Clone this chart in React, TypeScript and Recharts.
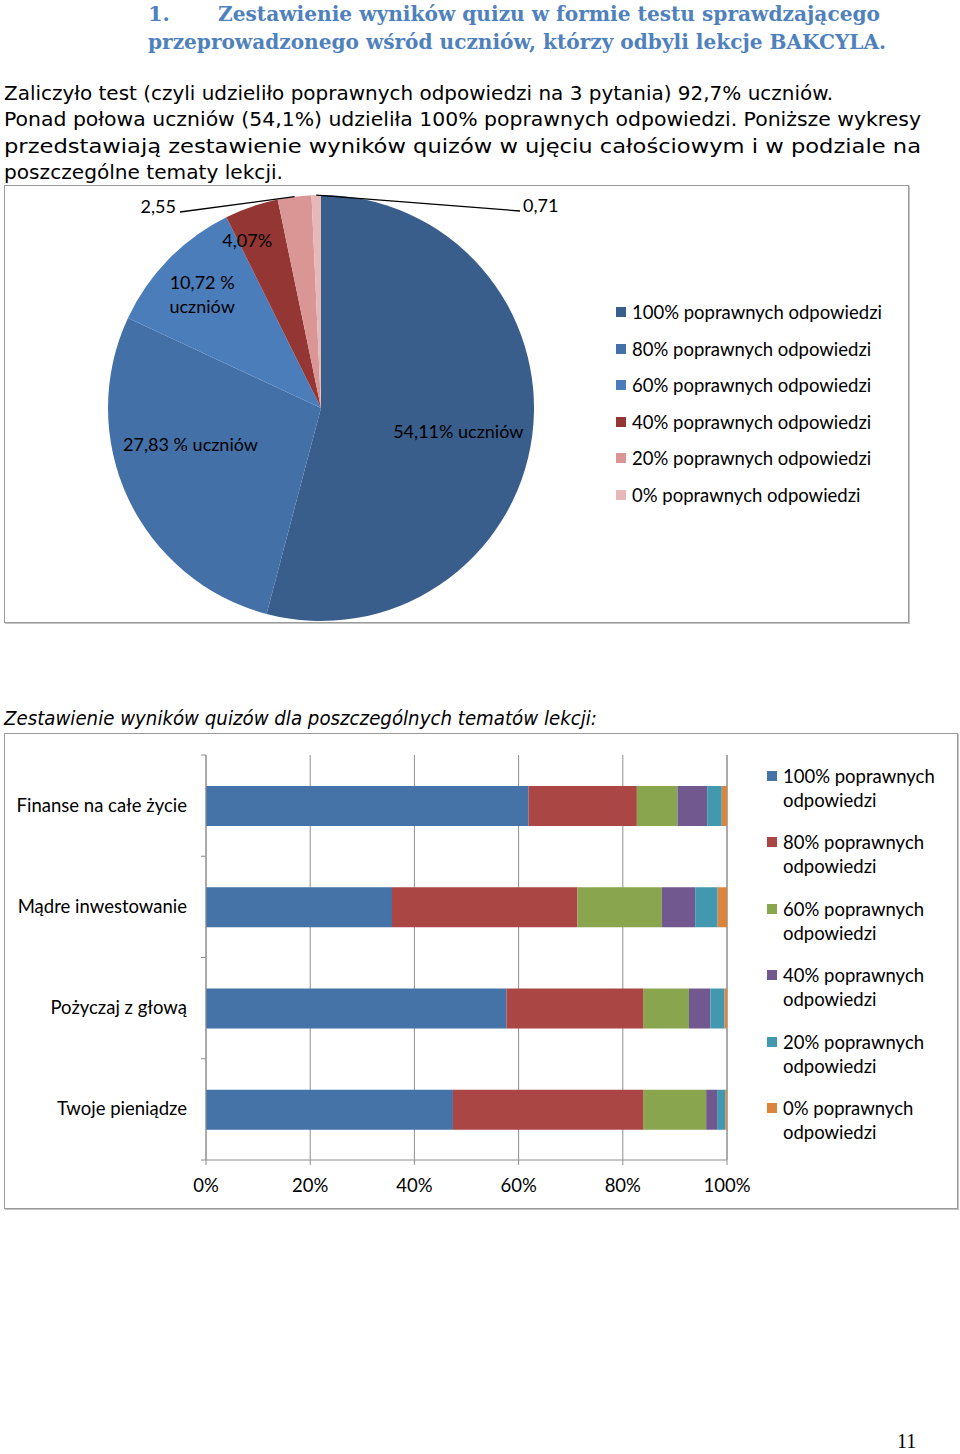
import React from 'react'
import {
  PieChart,
  Pie,
  Cell,
  BarChart,
  Bar,
  XAxis,
  YAxis,
  CartesianGrid,
  Legend,
} from 'recharts'

// overall quiz result (pie)
const PIE_NAMES = [
  '100% poprawnych odpowiedzi',
  '80% poprawnych odpowiedzi',
  '60% poprawnych odpowiedzi',
  '40% poprawnych odpowiedzi',
  '20% poprawnych odpowiedzi',
  '0% poprawnych odpowiedzi',
]
const PIE_VALUES = [54.11, 27.83, 10.72, 4.07, 2.55, 0.71]
const PIE_LABELS = ['54,11% uczniów', '27,83 % uczniów', '10,72 %\nuczniów', '4,07%', '2,55', '0,71']

// results per lesson topic (stacked bars)
const TOPICS = ['Finanse na całe życie', 'Mądre inwestowanie', 'Pożyczaj z głową', 'Twoje pieniądze']
const SERIES = [
  '100% poprawnych odpowiedzi',
  '80% poprawnych odpowiedzi',
  '60% poprawnych odpowiedzi',
  '40% poprawnych odpowiedzi',
  '20% poprawnych odpowiedzi',
  '0% poprawnych odpowiedzi',
]
const S100 = [61.9, 35.7, 57.7, 47.4]
const S80 = [20.8, 35.6, 26.3, 36.6]
const S60 = [7.8, 16.2, 8.7, 12.0]
const S40 = [5.7, 6.4, 4.1, 2.1]
const S20 = [2.8, 4.3, 2.7, 1.6]
const S0 = [1.0, 1.8, 0.5, 0.3]
const X_TICKS = [0, 20, 40, 60, 80, 100]

const PIE_COLORS = ['#3a5e8c', '#4470a8', '#4b7dbb', '#943634', '#d99694', '#e6b9b8']
const BAR_COLORS = ['#4572a7', '#aa4643', '#89a54e', '#71588f', '#4198af', '#db843d']
const FONT = 'Lato, "Open Sans", sans-serif'
const GRID = '#8e8e8e'

// label placement: fraction of radius (+ nudge), or a callout end point relative to the centre
const LABEL_LAYOUT: any[] = [
  { f: 0.65, dx: 0, dy: 6 },
  { f: 0.64, dx: -7, dy: -21 },
  { f: 0.78, dx: 0, dy: 3 },
  { f: 0.86, dx: -14, dy: 6 },
  { end: [-141, -196], anchor: 'end' },
  { end: [199, -197], anchor: 'start' },
]

const pieData = PIE_NAMES.map((name, i) => ({ name, value: PIE_VALUES[i] }))
const barData = TOPICS.map((name, i) => ({
  name,
  [SERIES[0]]: S100[i],
  [SERIES[1]]: S80[i],
  [SERIES[2]]: S60[i],
  [SERIES[3]]: S40[i],
  [SERIES[4]]: S20[i],
  [SERIES[5]]: S0[i],
}))

const RAD = Math.PI / 180

function renderPieLabel(props: any) {
  const { cx, cy, midAngle, outerRadius, index } = props
  const lay = LABEL_LAYOUT[index]
  const cos = Math.cos(-midAngle * RAD)
  const sin = Math.sin(-midAngle * RAD)
  const text = PIE_LABELS[index]
  if (lay.end) {
    const ex = cx + outerRadius * cos
    const ey = cy + outerRadius * sin
    const lx = cx + lay.end[0]
    const ly = cy + lay.end[1]
    return (
      <g>
        <path d={`M${ex},${ey} L${lx},${ly}`} stroke="#000" strokeWidth={1.3} fill="none" />
        <text
          x={lay.anchor === 'end' ? lx - 4 : lx + 3}
          y={ly + 1}
          textAnchor={lay.anchor}
          fontSize={18}
          fontFamily={FONT}
          fill="#000"
        >
          {text}
        </text>
      </g>
    )
  }
  const x = cx + outerRadius * lay.f * cos + lay.dx
  const y = cy + outerRadius * lay.f * sin + lay.dy
  const lines = text.split('\n')
  return (
    <text x={x} y={y} textAnchor="middle" fontSize={18} fontFamily={FONT} fill="#000">
      {lines.map((l, k) => (
        <tspan key={k} x={x} dy={k === 0 ? 6 - (lines.length - 1) * 12 : 24}>
          {l}
        </tspan>
      ))}
    </text>
  )
}

function PieLegend() {
  return (
    <div style={{ fontFamily: FONT, fontSize: 18.5, color: '#000' }}>
      {PIE_NAMES.map((n, i) => (
        <div key={n} style={{ height: 36.5, display: 'flex', alignItems: 'center', whiteSpace: 'nowrap' }}>
          <span style={{ width: 10, height: 10, background: PIE_COLORS[i], marginRight: 6 }} />
          {n}
        </div>
      ))}
    </div>
  )
}

function BarLegend() {
  return (
    <div style={{ fontFamily: FONT, fontSize: 18.5, color: '#000', lineHeight: '24px' }}>
      {SERIES.map((n, i) => (
        <div key={n} style={{ height: 66.4, display: 'flex', alignItems: 'flex-start' }}>
          <span style={{ width: 10, height: 10, background: BAR_COLORS[i], marginRight: 6, marginTop: 7, flex: 'none' }} />
          <span>
            {n.replace(' odpowiedzi', '')}
            <br />
            odpowiedzi
          </span>
        </div>
      ))}
    </div>
  )
}

const BAND = 405 / TOPICS.length

function TopicTick(props: any) {
  const { x, y, payload, index } = props
  const ax = x + 19
  return (
    <g>
      <line x1={ax - 5} y1={y - BAND / 2} x2={ax} y2={y - BAND / 2} stroke={GRID} />
      {index === TOPICS.length - 1 && <line x1={ax - 5} y1={y + BAND / 2} x2={ax} y2={y + BAND / 2} stroke={GRID} />}
      <text x={x} y={y + 6} textAnchor="end" fontSize={18.5} fontFamily={FONT} fill="#000">
        {payload.value}
      </text>
    </g>
  )
}

const boxStyle: React.CSSProperties = {
  position: 'absolute',
  border: '1px solid #9a9a9a',
  boxShadow: '1px 1px 0 #c4c4c4',
  background: '#fff',
}

export default function App() {
  return (
    <div style={{ position: 'absolute', left: 0, top: 0, width: 960, height: 1454, background: '#fff', overflow: 'hidden' }}>
      <svg width={960} height={1454} style={{ position: 'absolute', left: 0, top: 0 }}>
        <g fontFamily='"DejaVu Serif", serif' fontWeight="bold" fontSize={21} fill="#4f81bd">
          <text x={148} y={21}>1.</text>
          <text x={218} y={21} textLength={662} lengthAdjust="spacingAndGlyphs">
            Zestawienie wyników quizu w formie testu sprawdzającego
          </text>
          <text x={148} y={49} textLength={738} lengthAdjust="spacingAndGlyphs">
            przeprowadzonego wśród uczniów, którzy odbyli lekcje BAKCYLA.
          </text>
        </g>
        <g fontFamily='"DejaVu Sans", sans-serif' fontSize={20} fill="#000">
          <text x={4} y={100} textLength={829} lengthAdjust="spacingAndGlyphs">
            Zaliczyło test (czyli udzieliło poprawnych odpowiedzi na 3 pytania) 92,7% uczniów.
          </text>
          <text x={4} y={126} textLength={917} lengthAdjust="spacingAndGlyphs">
            Ponad połowa uczniów (54,1%) udzieliła 100% poprawnych odpowiedzi. Poniższe wykresy
          </text>
          <text x={4} y={153} textLength={917} lengthAdjust="spacingAndGlyphs">
            przedstawiają zestawienie wyników quizów w ujęciu całościowym i w podziale na
          </text>
          <text x={4} y={179} textLength={279} lengthAdjust="spacingAndGlyphs">
            poszczególne tematy lekcji.
          </text>
          <text x={4} y={725} fontStyle="italic" fontSize={19} textLength={593} lengthAdjust="spacingAndGlyphs">
            Zestawienie wyników quizów dla poszczególnych tematów lekcji:
          </text>
        </g>
        <text x={897} y={1448} fontFamily='"Liberation Serif", serif' fontSize={20} fill="#000">
          11
        </text>
      </svg>

      <div style={{ ...boxStyle, left: 4, top: 185, width: 903, height: 436 }}>
        <PieChart width={903} height={436}>
          <Pie
            data={pieData}
            dataKey="value"
            nameKey="name"
            cx={311}
            cy={217}
            outerRadius={213}
            startAngle={90}
            endAngle={-270}
            stroke="none"
            label={renderPieLabel}
            labelLine={false}
            isAnimationActive={false}
          >
            {pieData.map((d, i) => (
              <Cell key={d.name} fill={PIE_COLORS[i]} />
            ))}
          </Pie>
          <Legend
            layout="vertical"
            align="center"
            verticalAlign="middle"
            content={<PieLegend />}
            wrapperStyle={{ left: 611, top: 108, width: 290 }}
          />
        </PieChart>
      </div>

      <div style={{ ...boxStyle, left: 4, top: 733, width: 952, height: 474 }}>
        <BarChart
          width={952}
          height={474}
          data={barData}
          layout="vertical"
          margin={{ top: 21, right: 230, bottom: 18, left: 0 }}
        >
          <CartesianGrid horizontal={false} stroke={GRID} />
          <XAxis
            type="number"
            domain={[0, 100]}
            ticks={X_TICKS}
            tickFormatter={(v) => `${v}%`}
            stroke={GRID}
            tickSize={5}
            tickMargin={14}
            height={30}
            tick={{ fontSize: 18.5, fill: '#000', fontFamily: FONT }}
          />
          <YAxis
            type="category"
            dataKey="name"
            width={201}
            stroke={GRID}
            tickLine={false}
            tickSize={0}
            tickMargin={19}
            tick={<TopicTick />}
          />
          {SERIES.map((s, i) => (
            <Bar key={s} dataKey={s} stackId="a" fill={BAR_COLORS[i]} barSize={40} isAnimationActive={false} />
          ))}
          <Legend
            layout="vertical"
            align="center"
            verticalAlign="middle"
            content={<BarLegend />}
            wrapperStyle={{ left: 762, top: 30, width: 185 }}
          />
        </BarChart>
      </div>
    </div>
  )
}
